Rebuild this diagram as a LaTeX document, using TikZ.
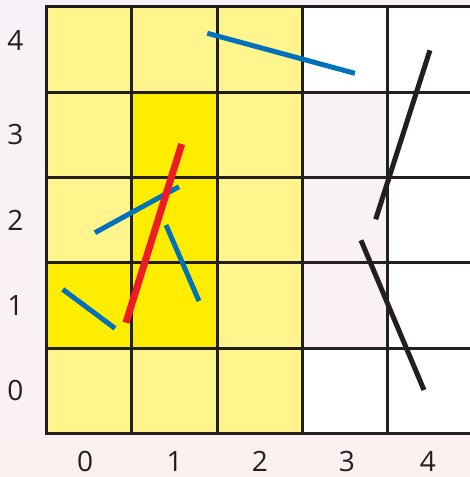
\documentclass[tikz,border=0pt]{standalone}
\usepackage{fontspec}
\setmainfont{Open Sans}
\definecolor{bgtop}{RGB}{247,243,248}
\definecolor{bgbot}{RGB}{252,240,241}
\definecolor{lightyel}{RGB}{255,245,140}
\definecolor{brightyel}{RGB}{255,237,0}
\definecolor{segblue}{RGB}{0,114,188}
\definecolor{segred}{RGB}{237,28,36}
\definecolor{inkblack}{RGB}{35,31,32}
\begin{document}
\begin{tikzpicture}[x=64pt,y=64pt,
  gridline/.style={inkblack,line width=2.25pt},
  blueseg/.style={segblue,line width=3.75pt},
  redseg/.style={segred,line width=5.25pt},
  blackseg/.style={inkblack,line width=3.75pt},
  axlabel/.style={inkblack,font=\fontsize{21}{23}\selectfont,inner sep=0pt}]
\useasboundingbox (-0.547,-0.512) rectangle (4.962,5.080);
\shade[top color=bgtop,bottom color=bgbot] (-0.547,-0.512) rectangle (4.962,5.080);
% fills
\fill[lightyel] (0,0) rectangle (3,5);
\fill[brightyel] (1,1) rectangle (2,4);
\fill[brightyel] (0,1) rectangle (1,2);
\fill[white] (3,0) rectangle (4,1);
\fill[white] (3,4) rectangle (4,5);
\fill[white] (4,0) rectangle (4.962,5);
% grid
\foreach \i in {0,...,4} \draw[gridline] (\i,0) -- (\i,5);
\foreach \j in {0,...,5} \draw[gridline] (-0.0175,\j) -- (4.962,\j);
% labels
\node[axlabel] (r0) at (-0.368,0.50) {0};
\node[axlabel] (r1) at (-0.368,1.50) {1};
\node[axlabel] (r2) at (-0.368,2.50) {2};
\node[axlabel] (r3) at (-0.368,3.50) {3};
\node[axlabel] (r4) at (-0.368,4.61) {4};
\node[axlabel] (c0) at (0.45,-0.33) {0};
\node[axlabel] (c1) at (1.50,-0.33) {1};
\node[axlabel] (c2) at (2.50,-0.33) {2};
\node[axlabel] (c3) at (3.52,-0.33) {3};
\node[axlabel] (c4) at (4.47,-0.33) {4};
% segments
\coordinate (b1a) at (1.883,4.690); \coordinate (b1b) at (3.614,4.220);
\coordinate (b2a) at (0.566,2.352); \coordinate (b2b) at (1.551,2.891);
\coordinate (b3a) at (1.399,2.442); \coordinate (b3b) at (1.786,1.551);
\coordinate (b4a) at (0.188,1.688); \coordinate (b4b) at (0.801,1.231);
\coordinate (ra) at (1.583,3.391); \coordinate (rb) at (0.930,1.297);
\coordinate (k1a) at (4.493,4.490); \coordinate (k1b) at (3.857,2.509);
\coordinate (k2a) at (3.685,2.263); \coordinate (k2b) at (4.423,0.508);
\draw[blueseg] (b1a) -- (b1b);
\draw[blueseg] (b2a) -- (b2b);
\draw[blueseg] (b3a) -- (b3b);
\draw[blueseg] (b4a) -- (b4b);
\draw[redseg] (ra) -- (rb);
\draw[blackseg] (k1a) -- (k1b);
\draw[blackseg] (k2a) -- (k2b);
\end{tikzpicture}
\end{document}
